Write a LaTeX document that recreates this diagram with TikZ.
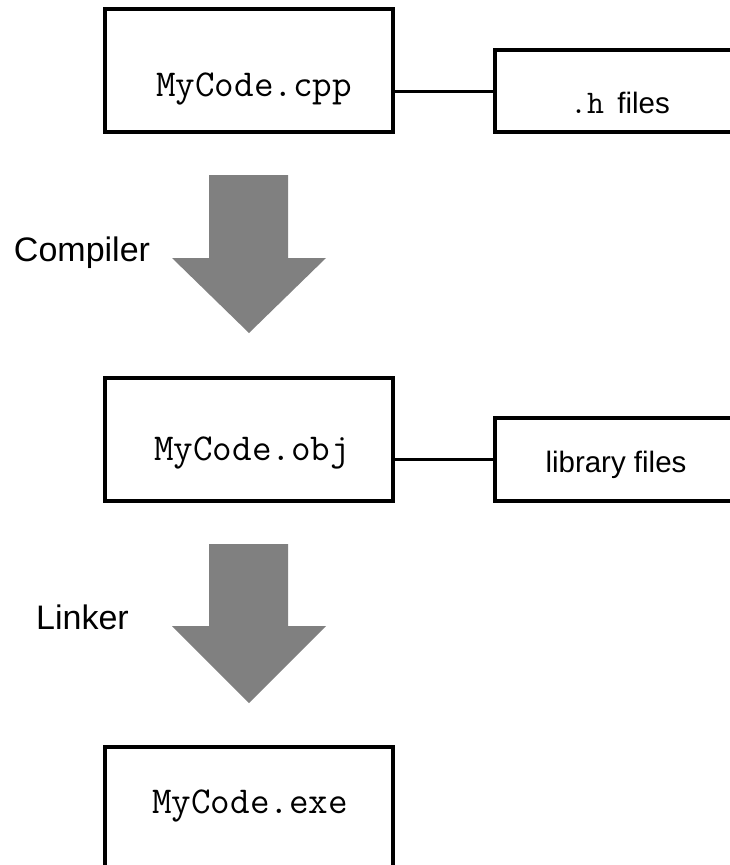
\documentclass[tikz,border=0pt]{standalone}
\usepackage{fontspec}
\setmainfont{Liberation Sans}
\tikzset{
  x=1pt, y=-1pt,
  filebox/.style={draw=black, line width=3.5pt, line join=miter, fill=white, inner sep=0pt},
  codetext/.style={font=\fontsize{38}{40}\selectfont\ttfamily, anchor=base, inner sep=0pt},
  sidetext/.style={font=\fontsize{29.5}{33}\selectfont, anchor=base, inner sep=0pt},
  steplabel/.style={font=\fontsize{34}{37}\selectfont, anchor=base, inner sep=0pt},
  link/.style={draw=black, line width=3pt},
  bigarrow/.style={fill=black!50, draw=none}
}
\begin{document}
\begin{tikzpicture}
  \useasboundingbox (0,0) rectangle (730,865);
  \clip (0,0) rectangle (730,865);

  % source file and headers
  \node[filebox, minimum width=288pt, minimum height=123pt] (cpp) at (249,70.5) {};
  \node[filebox, minimum width=245pt, minimum height=82pt] (hdr) at (617.5,91) {};
  \draw[link] (hdr.west -| cpp.east) -- (hdr.west);
  \node[codetext] (cpptext) at (254,96) {MyCode.cpp};
  \node[sidetext] (hdrtext) at (620,113)
    {{\fontsize{33}{36}\selectfont\ttfamily .h}\hspace{0.45em}files};

  % compile step
  \fill[bigarrow] (209,175) -- (288,175) -- (288,258) -- (326,258)
    -- (249,333) -- (172,258) -- (209,258) -- cycle;
  \node[steplabel] (comp) at (82,261) {Compiler};

  % object file and libraries
  \node[filebox, minimum width=288pt, minimum height=123pt] (obj) at (249,439.5) {};
  \node[filebox, minimum width=245pt, minimum height=83pt] (lib) at (617.5,459.5) {};
  \draw[link] (lib.west -| obj.east) -- (lib.west);
  \node[codetext] (objtext) at (252,460) {MyCode.obj};
  \node[sidetext] (libtext) at (616,472) {library files};

  % link step
  \fill[bigarrow] (209,544) -- (288,544) -- (288,626) -- (326,626)
    -- (249,703) -- (172,626) -- (209,626) -- cycle;
  \node[steplabel] (lnk) at (82.5,629) {Linker};

  % executable
  \node[filebox, minimum width=288pt, minimum height=140pt] (exe) at (249,817) {};
  \node[codetext] (exetext) at (250,813) {MyCode.exe};
\end{tikzpicture}
\end{document}
